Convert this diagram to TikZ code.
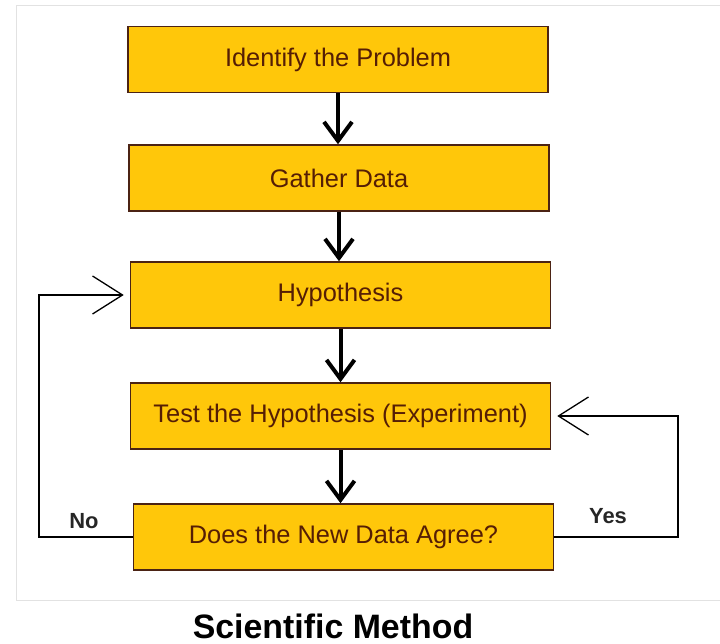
\documentclass[tikz,border=0pt]{standalone}
\usepackage{fontspec}
\setmainfont{Liberation Sans}
\usetikzlibrary{arrows.meta}
\definecolor{boxfill}{RGB}{255,199,10}
\definecolor{boxline}{RGB}{75,35,20}
\definecolor{boxtext}{RGB}{85,30,5}
\definecolor{framegray}{RGB}{226,226,226}
\tikzset{stepbox/.style={draw=boxline,line width=1.5bp,fill=boxfill,text=boxtext,minimum width=420bp,minimum height=66bp,inner sep=0pt,font=\fontsize{25.5}{30}\selectfont},
  down/.style={line width=4bp,-{Straight Barb[length=19bp,width=28bp]}},
  back/.style={line width=1.3bp,-{Straight Barb[length=30bp,width=38bp]},shorten >=6bp},
  answer/.style={font=\bfseries\fontsize{22}{26}\selectfont,text=black!85}}
\begin{document}
\begin{tikzpicture}[x=1bp,y=-1bp]
\useasboundingbox (0,0) rectangle (720,644);
\draw[framegray,line width=1bp](720,6)--(16,6)--(16,600)--(720,600);
\node[stepbox](problem) at (338,59.5){Identify the Problem};
\node[stepbox](data) at (339,178){Gather Data};
\node[stepbox](hyp) at (340.5,295){Hypothesis};
\node[stepbox](test) at (340.5,416){Test the Hypothesis (Experiment)};
\node[stepbox](agree) at (343.5,537){Does the New Data Agree?};
\foreach \a/\b in {problem/data,data/hyp,hyp/test,test/agree}{\draw[down](\a.south)--(\a.south|-\b.north);}
\coordinate (lx) at (39,0);
\coordinate (rx) at (678,0);
\draw[back](agree.west)--(agree.west-|lx)|-(hyp.west);
\draw[back](agree.east)--(agree.east-|rx)|-(test.east);
\node[answer](no) at (84,521){No};
\node[answer](yes) at (608,516){Yes};
\node[font=\bfseries\fontsize{34}{38}\selectfont](title) at (333,626){Scientific Method};
\end{tikzpicture}
\end{document}
